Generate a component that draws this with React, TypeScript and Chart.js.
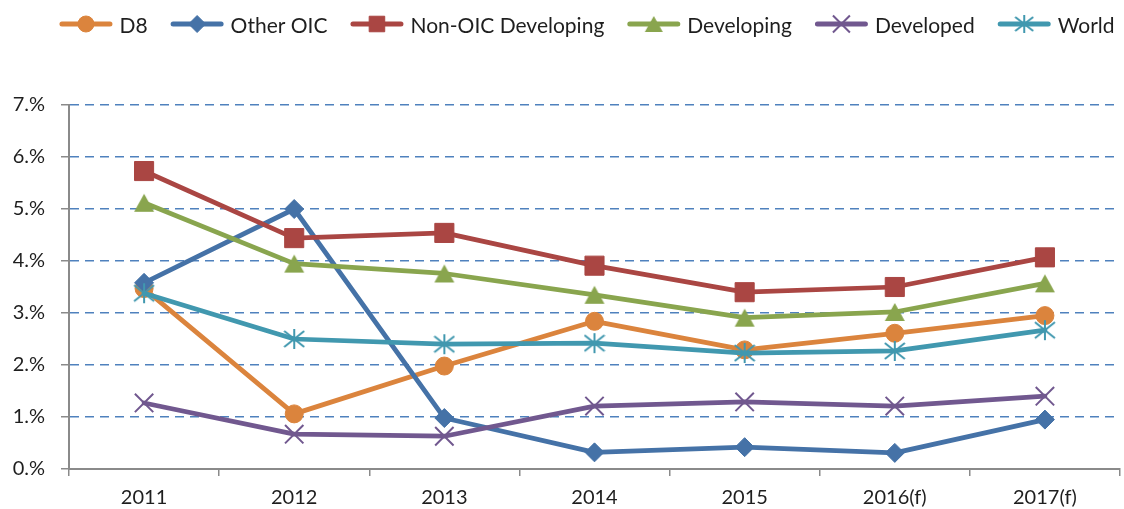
import React, { useEffect, useRef } from 'react';
import { Chart, registerables } from 'chart.js';
import { drawPoint } from 'chart.js/helpers';

Chart.register(...registerables);

const categories = ['2011', '2012', '2013', '2014', '2015', '2016(f)', '2017(f)'];
const yTickLabels = ['0.%', '1.%', '2.%', '3.%', '4.%', '5.%', '6.%', '7.%'];

const d8 = [3.47, 1.06, 1.98, 2.84, 2.29, 2.61, 2.95];
const otherOic = [3.58, 5.0, 0.98, 0.32, 0.42, 0.31, 0.95];
const nonOicDeveloping = [5.73, 4.44, 4.54, 3.91, 3.4, 3.5, 4.07];
const developing = [5.12, 3.95, 3.76, 3.35, 2.91, 3.02, 3.57];
const developed = [1.27, 0.67, 0.63, 1.21, 1.29, 1.21, 1.4];
const world = [3.38, 2.5, 2.4, 2.42, 2.23, 2.27, 2.67];

const seriesNames = ['D8', 'Other OIC', 'Non-OIC Developing', 'Developing', 'Developed', 'World'];
const seriesData = [d8, otherOic, nonOicDeveloping, developing, developed, world];
const seriesColors = ['#DB843D', '#4572A7', '#AA4643', '#89A54E', '#71588F', '#4198AF'];

const FONT = 'Lato';
const TEXT = '#1e1e1e';
const AXIS = '#8a8a8a';
const GRID = '#4F81BD';

function makeTriangle(color: string, w: number, h: number) {
  const c = document.createElement('canvas');
  c.width = w + 2;
  c.height = h + 2;
  const ctx = c.getContext('2d')!;
  ctx.fillStyle = color;
  ctx.beginPath();
  ctx.moveTo(c.width / 2, 1);
  ctx.lineTo(w + 1, h + 1);
  ctx.lineTo(1, h + 1);
  ctx.closePath();
  ctx.fill();
  return c;
}

function makeStar(color: string, s: number) {
  const c = document.createElement('canvas');
  c.width = s + 2;
  c.height = s + 2;
  const ctx = c.getContext('2d')!;
  ctx.strokeStyle = color;
  ctx.lineWidth = 2;
  ctx.beginPath();
  const m = c.width / 2;
  ctx.moveTo(m, 1);
  ctx.lineTo(m, s + 1);
  ctx.moveTo(1, 3);
  ctx.lineTo(s + 1, s - 1);
  ctx.moveTo(1, s - 1);
  ctx.lineTo(s + 1, 3);
  ctx.stroke();
  return c;
}

export default function App() {
  const ref = useRef<HTMLCanvasElement | null>(null);

  useEffect(() => {
    document.documentElement.style.overflow = 'hidden';
    document.body.style.overflow = 'hidden';
    const canvas = ref.current;
    if (!canvas) return;

    const styles: any[] = [
      { pointStyle: 'circle', radius: 9, borderWidth: 1 },
      { pointStyle: 'rectRot', radius: 9.5, borderWidth: 1 },
      { pointStyle: 'rect', radius: 13.5, borderWidth: 1 },
      { pointStyle: makeTriangle(seriesColors[3], 20, 18), radius: 10, borderWidth: 1 },
      { pointStyle: 'crossRot', radius: 13, borderWidth: 2 },
      { pointStyle: makeStar(seriesColors[5], 20), radius: 10, borderWidth: 2 },
    ];
    const legendStyles: any[] = [
      { pointStyle: 'circle', radius: 8, borderWidth: 1 },
      { pointStyle: 'rectRot', radius: 8.5, borderWidth: 1 },
      { pointStyle: 'rect', radius: 11, borderWidth: 1 },
      { pointStyle: makeTriangle(seriesColors[3], 18, 16), radius: 9, borderWidth: 1 },
      { pointStyle: 'crossRot', radius: 12, borderWidth: 2 },
      { pointStyle: makeStar(seriesColors[5], 18), radius: 9, borderWidth: 2 },
    ];

    const datasets = seriesNames.map((name, i) => ({
      label: name,
      data: seriesData[i],
      borderColor: seriesColors[i],
      backgroundColor: seriesColors[i],
      borderWidth: 4.75,
      borderJoinStyle: 'round' as const,
      borderCapStyle: 'round' as const,
      tension: 0,
      fill: false,
      pointStyle: styles[i].pointStyle,
      pointRadius: styles[i].radius,
      pointBorderWidth: styles[i].borderWidth,
      pointBackgroundColor: seriesColors[i],
      pointBorderColor: seriesColors[i],
      order: seriesNames.length - i,
    }));

    const legendPlugin = {
      id: 'excelLegend',
      afterDraw(chart: any) {
        const ctx = chart.ctx as CanvasRenderingContext2D;
        ctx.save();
        ctx.font = `21px ${FONT}`;
        const lineLen = 53;
        const textGap = 7;
        const itemGap = 23;
        const widths = seriesNames.map((n) => lineLen + textGap + ctx.measureText(n).width);
        const total = widths.reduce((a, b) => a + b, 0) + itemGap * (seriesNames.length - 1);
        let x = 587 - total / 2;
        const y = 24;
        seriesNames.forEach((name, i) => {
          ctx.strokeStyle = seriesColors[i];
          ctx.fillStyle = seriesColors[i];
          ctx.lineWidth = 5;
          ctx.lineCap = 'round';
          ctx.setLineDash([]);
          ctx.beginPath();
          ctx.moveTo(x + 2.5, y);
          ctx.lineTo(x + lineLen - 2.5, y);
          ctx.stroke();
          ctx.lineCap = 'butt';
          ctx.lineWidth = legendStyles[i].borderWidth;
          drawPoint(ctx, { pointStyle: legendStyles[i].pointStyle, radius: legendStyles[i].radius, rotation: 0, borderWidth: legendStyles[i].borderWidth } as any, x + lineLen / 2, y);
          ctx.fillStyle = TEXT;
          ctx.textBaseline = 'alphabetic';
          ctx.textAlign = 'left';
          ctx.fillText(name, x + lineLen + textGap, 32.5);
          x += widths[i] + itemGap;
        });
        ctx.restore();
      },
    };

    const chart = new Chart(canvas, {
      type: 'line',
      data: { labels: categories, datasets },
      options: {
        animation: false,
        responsive: false,
        layout: { padding: { top: 105, right: 1, left: 0, bottom: 0 } },
        plugins: { legend: { display: false }, tooltip: { enabled: false } },
        scales: {
          x: {
            type: 'category',
            offset: true,
            grid: {
              offset: true,
              drawOnChartArea: false,
              drawTicks: true,
              tickLength: 7,
              color: AXIS,
              tickColor: AXIS,
              lineWidth: 1.5,
            },
            border: { display: true, color: AXIS, width: 2 },
            ticks: {
              color: TEXT,
              font: { family: FONT, size: 20 },
              padding: 10,
              maxRotation: 0,
              autoSkip: false,
            },
            afterFit(scale: any) {
              scale.height = 40;
            },
          },
          y: {
            min: 0,
            max: 7,
            grid: {
              drawTicks: true,
              tickLength: 8,
              color: (c: any) => (c.tick && c.tick.value === 0 ? 'rgba(0,0,0,0)' : GRID),
              tickColor: AXIS,
              lineWidth: 1.5,
              tickWidth: 1.5,
              tickBorderDash: [],
            } as any,
            border: { display: true, color: AXIS, width: 2, dash: [9, 6] },
            ticks: {
              stepSize: 1,
              color: TEXT,
              font: { family: FONT, size: 20 },
              padding: 16,
              callback: (_v: any, i: number) => yTickLabels[i],
            },
            afterFit(scale: any) {
              scale.width = 69;
            },
          },
        },
      },
      plugins: [legendPlugin],
    });

    return () => chart.destroy();
  }, []);

  return (
    <div style={{ position: 'absolute', left: 0, top: 0, width: 1135, height: 509, background: '#fff' }}>
      <canvas ref={ref} width={1135} height={509} style={{ width: 1135, height: 509, display: 'block' }} />
    </div>
  );
}
